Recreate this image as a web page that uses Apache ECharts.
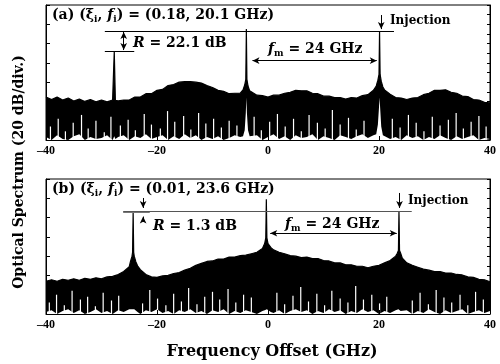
<!DOCTYPE html>
<html>
<head>
<meta charset="utf-8">
<script src="https://cdn.jsdelivr.net/npm/echarts@6/dist/echarts.min.js"></script>
<style>
  html, body { margin: 0; padding: 0; background: #fff; }
  #chart { width: 500px; height: 364px; }
</style>
</head>
<body>
<div id="chart"></div>
<script>
// panel (a): (xi, f) = (0.18, 20.1 GHz)
const freqA = [-40,-39,-38,-37,-36,-35,-34,-33,-32,-31,-30,-29,-28,-27.9,-27.7,-27.5,
  -27,-26,-25,-24,-23,-22,-21,-20,-19,-18,-17,-16,-15,-14,-13,-12,-11,-10,-9,-8,-7,-6,-5,
  -4.5,-4.2,-4.0,-3.9,-3.8,-3.6,-3.3,
  -3,-2,-1,0,1,2,3,4,5,6,7,8,9,10,11,12,13,14,15,16,17,18,19,
  19.5,19.8,20.0,20.1,20.2,20.4,20.7,
  21,22,23,24,25,26,27,28,29,30,31,32,33,34,35,36,37,38,39,40]
const upperA = [44.6,42,44.5,41.5,43.5,40.5,42.5,40,42,39.5,41.5,39.5,41.5,41,92.3,41,
  40.5,41.5,41.5,44.5,44.5,48,48,51.5,52.5,56.5,57.5,60,60.5,60.5,60,59,56.5,54.5,51.5,50.5,48,48.5,48.5,
  52,57,63,115,63,56,51,
  49.5,46.5,46,44.5,46.5,46.5,48.5,49.5,51.5,51,51,48.5,48,45.5,45.5,44,44,42.5,44,43.5,46,47,51.5,
  56,62,68,113,68,61,55,
  52,47.5,44,43.5,42,43.5,44,47,48.5,51.5,51.5,52,49.5,48.5,45.5,45,42,41.5,39,38.5]
const lowerA = [3,0,5,1,0,4,6,0,3,1,2,5,0,2,4,1,
  3,5,0,4,2,6,1,3,5,0,4,1,6,2,5,0,3,1,4,0,2,5,3,
  4,10,28,44,28,10,4,
  2,5,0,3,6,1,4,0,5,2,3,6,0,4,2,0,5,3,1,4,6,2,5,
  6,16,34,44,34,14,5,
  4,1,3,0,5,2,4,0,3,1,5,2,0,4,1,3,5,0,2,1]
const gapFreqA = [-39.2,-37.8,-36.5,-35.1,-33.6,-32.4,-31.0,-29.5,-28.3,-26.6,
  -25.2,-23.9,-22.3,-21.0,-19.4,-18.1,-16.8,-15.2,-13.9,-12.5,
  -11.2,-9.8,-8.4,-7.0,-5.6,-2.5,-1.2,0.3,1.7,3.1,
  4.6,6.0,7.4,8.9,10.3,11.6,13.0,14.5,15.9,17.3,
  22.4,23.8,25.3,26.7,28.1,29.6,31.0,32.5,33.9,35.2,
  36.6,38.0,39.3]
const gapTopA = [14,22,9,18,26,12,20,8,24,15,
  21,10,27,16,12,30,19,25,11,28,
  17,22,13,20,15,24,10,19,27,14,
  22,9,26,18,12,31,16,23,11,20,
  22,13,26,18,9,24,15,21,28,12,
  19,25,14]

// panel (b): (xi, f) = (0.01, 23.6 GHz)
const freqB = [-40,-39,-38,-37,-36,-35,-34,-33,-32,-31,-30,-29,-28,-27,-26,-25,
  -24.8,-24.5,-24.4,-24.3,-24.2,-24.1,-23.8,-23.5,
  -23,-22,-21,-20,-19,-18,-17,-16,-15,-14,-13,-12,-11,-10,-9,-8,-7,-6,-5,-4,-3,-2,-1,
  -0.6,-0.4,-0.3,-0.2,0,0.5,
  1,2,3,4,5,6,7,8,9,10,11,12,13,14,15,16,17,18,19,20,21,22,23,
  23.3,23.5,23.6,23.7,23.9,24.2,
  25,26,27,28,29,30,31,32,33,34,35,36,37,38,39,40]
const upperB = [34,35.5,34,36,35,36.5,35,37,36,37.5,36.5,38.5,39,41,44,49,
  54,60,64,105.5,64,60,54,50,
  46,41,38.5,38,39.5,40,42,43,45.5,47.5,50.5,52.5,54.5,55,57,57,59,59,60.5,61,62.5,64,68,
  73,79,119,79,73,69,
  66.5,64,62.5,60.5,60,58.5,59,57.5,57.5,55.5,55,53,53,51,51,49.5,49.5,48,49.5,50.5,53,55.5,60,
  63,66,106.8,66,63,58,
  53,50.5,48.5,46.5,45.5,44,44,42.5,42.5,41,40.5,38.5,38,36,35.5,33.5]
const lowerB = [2,4,0,3,5,1,4,0,2,5,1,3,0,4,2,5,
  3,5,6,7,6,5,3,2,
  0,4,2,5,1,3,0,4,2,5,1,3,0,4,2,5,0,3,1,4,2,0,3,
  4,5,6,5,4,2,
  1,4,0,3,5,2,4,0,3,1,5,2,4,0,3,1,5,2,4,0,3,1,4,
  3,5,6,5,3,2,
  4,0,3,1,5,2,0,4,1,3,5,0,2,4,1,3]
const gapFreqB = [-39.4,-38.1,-36.7,-35.3,-33.8,-32.5,-31.1,-29.7,-28.2,-26.9,
  -22.6,-21.3,-19.9,-18.4,-17.0,-15.6,-14.3,-12.8,-11.4,-10.0,
  -8.7,-7.2,-5.8,-4.4,-3.0,1.6,3.0,4.5,5.9,7.3,
  8.8,10.2,11.5,13.0,14.4,15.8,17.2,18.7,20.1,21.4,
  26.0,27.4,28.9,30.3,31.7,33.1,34.6,36.0,37.4,38.8]
const gapTopB = [12,20,9,24,15,18,8,22,14,19,
  11,25,16,9,21,13,27,10,18,23,
  15,26,12,20,17,22,10,19,28,13,
  21,9,24,16,12,29,15,20,11,18,
  14,22,10,25,17,12,20,9,23,15]

const xTicks = [-40, -20, 0, 20, 40]

// reference levels (dB)
const sideTopA = 92.3, injTopA = 113
const sideTopB = 105.5, injTopB = 106.8

const F = '"Liberation Serif", "Times New Roman", serif'
const FD = '"DejaVu Serif", serif'
const chart = echarts.init(document.getElementById('chart'))

const pairs = (xs, ys) => xs.map((x, i) => [x, ys[i]])

const grids = [
  { left: 46, top: 5, width: 444, height: 135 },
  { left: 46, top: 179, width: 444, height: 135 }
].map(g => Object.assign(g, { show: true, borderColor: '#000', borderWidth: 1 }))

const xAxes = [0, 1].map(i => ({
  gridIndex: i, z: 10,
  type: 'value',
  min: -40, max: 40, interval: 20,
  axisLine: { onZero: false, lineStyle: { color: '#000', width: 1 } },
  axisTick: { inside: true, length: 4, lineStyle: { color: '#000' } },
  axisLabel: {
    color: '#000', fontFamily: F, fontWeight: 'bold', fontSize: 12, margin: 5,
    formatter: v => xTicks.includes(v) ? (v < 0 ? '\u2013' + Math.abs(v) : String(v)) : ''
  },
  splitLine: { show: false }
}))

const yAxes = []
;[0, 1].forEach(i => {
  yAxes.push({
    gridIndex: i, z: 10, type: 'value', min: 0, max: 140, interval: 20,
    axisLine: { show: true, onZero: false, lineStyle: { color: '#000' } },
    axisTick: { show: true, inside: true, length: 4, lineStyle: { color: '#000' } },
    axisLabel: { show: false }, splitLine: { show: false }
  })
  yAxes.push({
    gridIndex: i, z: 10, type: 'value', position: 'right', min: 0, max: 140, interval: 10,
    axisLine: { show: true, onZero: false, lineStyle: { color: '#000' } },
    axisTick: { show: true, inside: true, length: 3, lineStyle: { color: '#000' } },
    axisLabel: { show: false }, splitLine: { show: false }
  })
})

const seg = (x1, y1, x2, y2, s1, s2, color) => [
  { coord: [x1, y1], symbol: s1 || 'none', symbolSize: [5, 7] },
  { coord: [x2, y2], symbol: s2 || 'none', symbolSize: [5, 7],
    lineStyle: color ? { color: color } : undefined }
]

const spectrum = (idx, freq, upper, lower, gapF, gapT, marks) => [
  {
    type: 'line', xAxisIndex: idx, yAxisIndex: idx * 2, z: 2,
    data: pairs(freq, upper), symbol: 'none', silent: true,
    lineStyle: { color: '#000', width: 1.2 },
    areaStyle: { color: '#000', opacity: 1, origin: 'start' }
  },
  {
    type: 'line', xAxisIndex: idx, yAxisIndex: idx * 2, z: 3,
    data: pairs(freq, lower), symbol: 'none', silent: true,
    lineStyle: { opacity: 0 },
    areaStyle: { color: '#fff', opacity: 1, origin: 'start' }
  },
  {
    type: 'bar', xAxisIndex: idx, yAxisIndex: idx * 2, z: 4,
    data: pairs(gapF, gapT), barWidth: 1.2, barMinWidth: 1, silent: true,
    itemStyle: { color: '#fff' }
  },
  {
    type: 'line', xAxisIndex: idx, yAxisIndex: idx * 2, data: [], silent: true, z: 5,
    markLine: {
      silent: true, animation: false,
      label: { show: false },
      lineStyle: { color: '#000', width: 1, type: 'solid' },
      emphasis: { disabled: true },
      data: marks
    }
  }
]

const marksA = [
  seg(-29.4, injTopA, 22.7, injTopA),
  seg(-29.4, sideTopA, -24.1, sideTopA),
  seg(-26.0, sideTopA + 1, -26.0, injTopA - 1, 'arrow', 'arrow'),
  seg(-2.8, 82.3, 19.6, 82.3, 'arrow', 'arrow'),
  seg(20.4, 129.6, 20.4, injTopA + 2, 'none', 'arrow')
]
const marksB = [
  seg(-26.1, injTopB, 25.9, injTopB, null, null, '#555'),
  seg(-26.1, sideTopB, -21.3, sideTopB, null, null, '#777'),
  seg(-22.5, 120.3, -22.5, 110, 'none', 'arrow'),
  seg(-22.5, 95.4, -22.5, 101, 'none', 'arrow'),
  seg(0.4, 83.7, 23.2, 83.7, 'arrow', 'arrow'),
  seg(23.7, 125.5, 23.7, 110, 'none', 'arrow')
]

const rich = {
  t: { fontFamily: FD, fontWeight: 'bold', fontSize: 14, lineHeight: 19, color: '#000' },
  i: { fontFamily: FD, fontWeight: 'bold', fontStyle: 'italic', fontSize: 14, lineHeight: 19, color: '#000' },
  s: { fontFamily: FD, fontWeight: 'bold', fontSize: 9, lineHeight: 9, verticalAlign: 'bottom', color: '#000' }
}
const txt = (x, y, text, extra) => ({
  type: 'text', x: x, y: y, silent: true,
  style: Object.assign({ text: text, rich: rich, align: 'left', verticalAlign: 'middle',
    font: 'bold 14px ' + FD, fill: '#000' }, extra || {})
})

chart.setOption({
  animation: false,
  backgroundColor: '#fff',
  grid: grids,
  xAxis: xAxes,
  yAxis: yAxes,
  series: [].concat(
    spectrum(0, freqA, upperA, lowerA, gapFreqA, gapTopA, marksA),
    spectrum(1, freqB, upperB, lowerB, gapFreqB, gapTopB, marksB)
  ),
  graphic: [
    txt(52, 15, '{t|(a) (}{t|\u03be}{s|i}{t|, }{i|f}{s|i}{t|) = (0.18, 20.1 GHz)}'),
    txt(133, 43, '{i|R}{t| = 22.1 dB}'),
    txt(268, 49, '{i|f}{s|m}{t| = 24 GHz}'),
    txt(390, 21, 'Injection', { font: 'bold 12px ' + FD }),
    txt(52, 189, '{t|(b) (}{t|\u03be}{s|i}{t|, }{i|f}{s|i}{t|) = (0.01, 23.6 GHz)}'),
    txt(153, 226, '{i|R}{t| = 1.3 dB}'),
    txt(285, 224, '{i|f}{s|m}{t| = 24 GHz}'),
    txt(408, 201, 'Injection', { font: 'bold 12px ' + FD }),
    txt(272, 352, 'Frequency Offset (GHz)', { font: 'bold 16px ' + FD, align: 'center' }),
    {
      type: 'text', x: 19, y: 172, rotation: Math.PI / 2, silent: true,
      style: { text: 'Optical Spectrum (20 dB/div.)', font: 'bold 14px ' + FD,
        fill: '#000', align: 'center', verticalAlign: 'middle' }
    }
  ]
})
</script>
</body>
</html>
